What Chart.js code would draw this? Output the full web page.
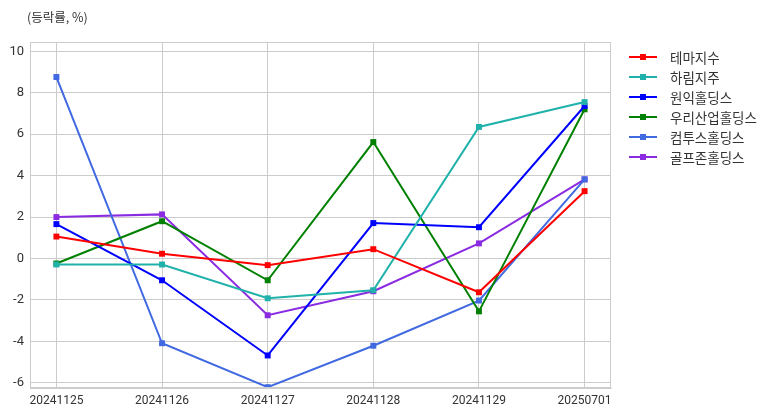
<!DOCTYPE html>
<html>
<head>
<meta charset="utf-8">
<script src="https://cdn.jsdelivr.net/npm/chart.js@4"></script>
<style>
  html, body { margin: 0; padding: 0; background: #fff; }
  #wrap { position: relative; width: 782px; height: 416px; }
  #title { position: absolute; left: 27px; top: 7px; font: 12.5px "Noto Sans CJK KR", sans-serif; color: #333; }
  #legend { position: absolute; left: 629px; top: 47px; font: 13.5px "Noto Sans CJK KR", sans-serif; color: #333; }
  .item { display: flex; align-items: center; height: 20px; }
  .sw { position: relative; width: 28px; height: 20px; margin-right: 13px; }
  .sw .ln { position: absolute; left: 0; right: 0; top: 9px; height: 2px; }
  .sw .mk { position: absolute; left: 11px; top: 7px; width: 6px; height: 6px; }
</style>
</head>
<body>
<div id="wrap">
  <canvas id="c" width="782" height="416"></canvas>
  <div id="title">(등락률, %)</div>
  <div id="legend"></div>
</div>
<script>
const categories = ["20241125", "20241126", "20241127", "20241128", "20241129", "20250701"];
const seriesNames = ["테마지수", "하림지주", "원익홀딩스", "우리산업홀딩스", "컴투스홀딩스", "골프존홀딩스"];
const themeIndex = [1.06, 0.23, -0.32, 0.45, -1.63, 3.25];
const harim = [-0.29, -0.29, -1.92, -1.53, 6.35, 7.55];
const wonik = [1.66, -1.05, -4.68, 1.71, 1.51, 7.36];
const woori = [-0.24, 1.80, -1.05, 5.62, -2.55, 7.20];
const com2us = [8.76, -4.09, -6.21, -4.21, -2.03, 3.82];
const golfzon = [2.00, 2.13, -2.74, -1.58, 0.73, 3.82];
const yTicks = [-6, -4, -2, 0, 2, 4, 6, 8, 10];
const colors = ["#ff0000", "#20b2aa", "#0000ff", "#008000", "#4169e1", "#8a2be2"];
const values = [themeIndex, harim, wonik, woori, com2us, golfzon];

const datasets = seriesNames.map((n, i) => ({
  label: n,
  data: values[i].map((v, j) => ({ x: j, y: v })),
  borderColor: colors[i],
  backgroundColor: colors[i],
  borderWidth: 2,
  pointStyle: 'rect',
  pointRadius: 4.2,
  pointHoverRadius: 4.2,
  pointBorderWidth: 0,
  tension: 0
}));

const lg = document.getElementById('legend');
datasets.forEach(d => {
  const it = document.createElement('div'); it.className = 'item';
  const sw = document.createElement('div'); sw.className = 'sw';
  const ln = document.createElement('div'); ln.className = 'ln'; ln.style.background = d.borderColor;
  const mk = document.createElement('div'); mk.className = 'mk'; mk.style.background = d.borderColor;
  sw.appendChild(ln); sw.appendChild(mk);
  const tx = document.createElement('span'); tx.textContent = d.label;
  it.appendChild(sw); it.appendChild(tx);
  lg.appendChild(it);
});

new Chart(document.getElementById('c'), {
  type: 'line',
  data: { datasets },
  options: {
    responsive: false,
    animation: false,
    events: [],
    layout: { padding: { left: 0, right: 171, top: 42, bottom: 0 } },
    plugins: { legend: { display: false }, title: { display: false }, tooltip: { enabled: false } },
    scales: {
      x: {
        type: 'linear',
        min: -0.25,
        max: categories.length - 0.75,
        afterBuildTicks: s => { s.ticks = categories.map((c, i) => ({ value: i })); },
        grid: { color: '#cccccc', lineWidth: 1, drawTicks: false },
        border: { color: '#cccccc', width: 1 },
        ticks: { color: '#333', font: { family: 'Roboto', size: 12 }, padding: 6, maxRotation: 0,
                 callback: v => categories[v] },
        afterFit: s => { s.height = 28; }
      },
      y: {
        min: -6.25,
        max: 10.45,
        afterBuildTicks: s => { s.ticks = yTicks.map(v => ({ value: v })); },
        grid: { color: '#cccccc', lineWidth: 1, drawTicks: false },
        border: { color: '#cccccc', width: 1 },
        ticks: { color: '#333', font: { family: 'Roboto', size: 13 }, padding: 6 },
        afterFit: s => { s.width = 30; }
      }
    }
  },
  plugins: [{
    id: 'frame',
    afterDraw(chart) {
      const a = chart.chartArea, ctx = chart.ctx;
      ctx.save(); ctx.strokeStyle = '#cccccc'; ctx.lineWidth = 1;
      ctx.strokeRect(Math.round(a.left) + 0.5, Math.round(a.top) + 0.5, Math.round(a.right - a.left) - 1, Math.round(a.bottom - a.top) - 1);
      ctx.restore();
    }
  }]
});
</script>
</body>
</html>
